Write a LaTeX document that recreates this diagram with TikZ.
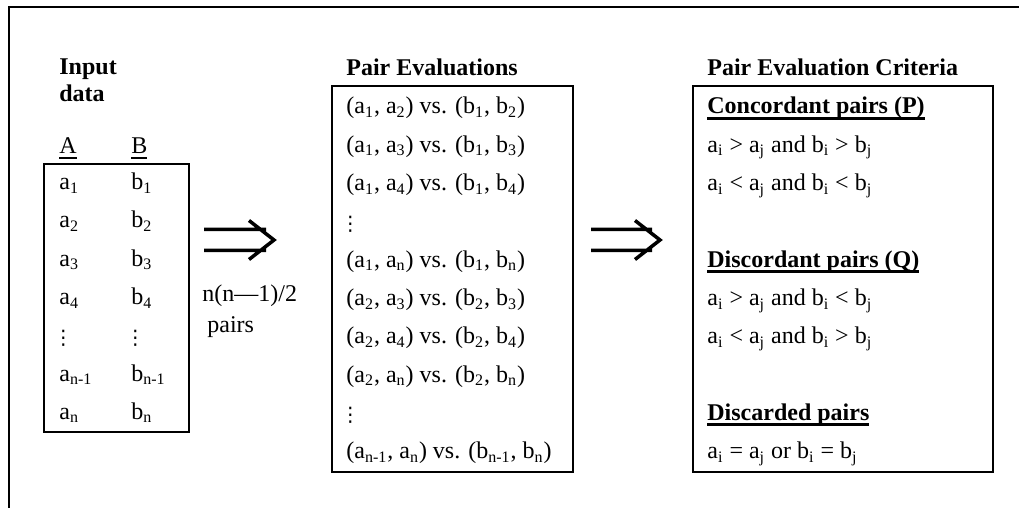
\documentclass[tikz,border=0pt]{standalone}
\usepackage{fontspec}
\setmainfont{Liberation Serif}
\newfontfamily\dotfont{DejaVu Sans}
\usepackage{tikz}

\newcommand{\ix}[1]{\textsubscript{#1}}
\newcommand{\vdt}{{\dotfont\fontsize{10}{12}\selectfont ⋮}}
\newsavebox{\ulbox}
\newcommand{\ulthin}[1]{\sbox{\ulbox}{#1}\rlap{\rule[-2.3pt]{\wd\ulbox}{0.6pt}}\usebox{\ulbox}}
\newcommand{\ulbold}[1]{\sbox{\ulbox}{#1}\rlap{\rule[-3pt]{\wd\ulbox}{1.5pt}}\usebox{\ulbox}}

\begin{document}
\begin{tikzpicture}[x=0.5pt,y=-0.5pt,
  every node/.style={inner sep=0pt,font=\fontsize{12}{14}\selectfont},
  txt/.style={anchor=base west},
  title/.style={anchor=base west,font=\fontsize{12}{14}\selectfont\bfseries},
  frame/.style={line width=1pt},
  box/.style={line width=1pt},
  implies/.style={line width=1.75pt,line join=miter}]
\useasboundingbox (0,0) rectangle (1019,508);
% outer frame, runs off the page
\draw[frame] (9,7) rectangle (1060,560);

% input data
\node[title,anchor=north west,align=left,font=\fontsize{12}{13.25}\selectfont\bfseries] (input) at (59,58.7) {Input\\data};
\node[txt] (colA) at (59,154) {\ulthin{A}};
\node[txt] (colB) at (131,154) {\ulthin{B}};
\draw[box] (44,164) rectangle (189,432);
\foreach \s/\y in {1/189.6,2/227.9,3/266.2,4/304.5,n-1/381.1,n/419.4}{
  \node[txt] (a\s) at (59,\y) {a\ix{\s}};
  \node[txt] (b\s) at (131,\y) {b\ix{\s}};
}
\node[txt] (avd) at (53,344) {\vdt};
\node[txt] (bvd) at (125,344) {\vdt};

% first arrow
\coordinate (arr1s) at (204,240);
\coordinate (arr1e) at (274,240);
\draw[implies] (arr1s) ++(0,-10.5) -- ++(62,0) (arr1s) ++(0,10.5) -- ++(62,0)
  (arr1e) ++(-25,-19.5) -- (arr1e) -- ++(-25,19.5);
\node[anchor=north west,align=left,font=\fontsize{12}{15.5}\selectfont] (npairs) at (202,284.5) {n(n---1)/2\\\hspace*{2.5pt}pairs};

% pair evaluations
\node[title] (evals) at (346,76) {Pair Evaluations};
\draw[box] (332,86) rectangle (573,472);
\foreach \p/\q/\y [count=\k] in {1/2/114,1/3/152.3,1/4/190.6,1/n/267.2,2/3/305.5,2/4/343.8,2/n/382.1,n-1/n/458.7}
  \node[txt] (ev\k) at (346,\y) {(a\ix{\p}, a\ix{\q}) vs. (b\ix{\p}, b\ix{\q})};
\node[txt] (evd1) at (340,231) {\vdt};
\node[txt] (evd2) at (340,422) {\vdt};

% second arrow
\coordinate (arr2s) at (591,240);
\coordinate (arr2e) at (660,240);
\draw[implies] (arr2s) ++(0,-10.5) -- ++(61,0) (arr2s) ++(0,10.5) -- ++(61,0)
  (arr2e) ++(-25,-19.5) -- (arr2e) -- ++(-25,19.5);

% criteria
\node[title] (crit) at (707,76) {Pair Evaluation Criteria};
\draw[box] (693,86) rectangle (993,472);
\node[title] (conc) at (707,114) {\ulbold{Concordant pairs (P)}};
\node[txt] (conc1) at (707,152.3) {a\ix{i} > a\ix{j} and b\ix{i} > b\ix{j}};
\node[txt] (conc2) at (707,190.6) {a\ix{i} < a\ix{j} and b\ix{i} < b\ix{j}};
\node[title] (disc) at (707,267.2) {\ulbold{Discordant pairs (Q)}};
\node[txt] (disc1) at (707,305.5) {a\ix{i} > a\ix{j} and b\ix{i} < b\ix{j}};
\node[txt] (disc2) at (707,343.8) {a\ix{i} < a\ix{j} and b\ix{i} > b\ix{j}};
\node[title] (drop) at (707,420.4) {\ulbold{Discarded pairs}};
\node[txt] (drop1) at (707,458.7) {a\ix{i} = a\ix{j} or b\ix{i} = b\ix{j}};
\end{tikzpicture}
\end{document}
